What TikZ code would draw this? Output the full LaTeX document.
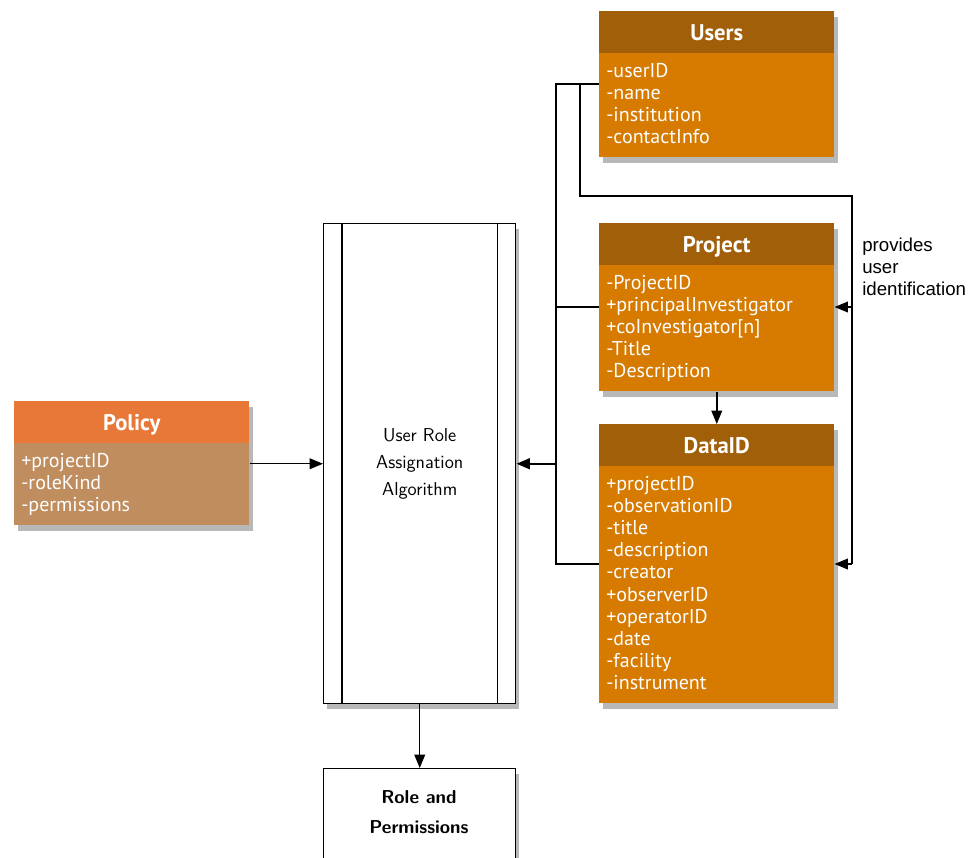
\documentclass[tikz,border=0pt]{standalone}
\usepackage{fontspec}
\newfontfamily\classfont{PT Sans}
\newfontfamily\notefont{Liberation Sans}
\usetikzlibrary{shadows,arrows.meta}
\definecolor{hdrbrown}{HTML}{A15F0A}
\definecolor{bodyorange}{HTML}{D67A00}
\definecolor{polhdr}{HTML}{E87837}
\definecolor{polbody}{HTML}{C08D5F}
\begin{document}
\begin{tikzpicture}[x=0.75pt,y=-0.75pt,
  shade/.style={drop shadow={shadow xshift=2.5pt,shadow yshift=-4pt,opacity=0.28,fill=black}},
  hdr/.style={fill=#1,text=white,font=\classfont\bfseries\fontsize{17}{20}\selectfont,minimum width=176.25pt,minimum height=31.5pt,inner sep=0pt,anchor=north west,text height=12pt,text depth=0pt,shade},
  bodybox/.style 2 args={fill=#1,minimum width=176.25pt,minimum height=#2,inner sep=0pt,anchor=north west,shade},
  item/.style={anchor=base west,text=white,font=\classfont\fontsize{15}{18}\selectfont,inner sep=0pt},
  conn/.style={draw=black,line width=1.1pt},
  tip/.style={-{Triangle[length=10pt,width=8pt]}},
  algbox/.style={draw,line width=1.1pt,fill=white,shade,minimum width=144pt,inner sep=0pt,anchor=north west}
]
\useasboundingbox (0,0) rectangle (969,857);
\clip (0,0) rectangle (969,857);

% Users
\node[hdr=hdrbrown] (users-h) at (599,11) {Users};
\node[bodybox={bodyorange}{78pt}] (users-b) at (599,53) {};
\foreach \t [count=\i from 0] in {-userID,-name,-institution,-contactInfo}
  \node[item] (users-i\i) at (606,77+22*\i) {\t};

% Project
\node[hdr=hdrbrown] (proj-h) at (599,223) {Project};
\node[bodybox={bodyorange}{94.5pt}] (proj-b) at (599,265) {};
\foreach \t [count=\i from 0] in {-ProjectID,+principalInvestigator,{+coInvestigator[n]},-Title,-Description}
  \node[item] (proj-i\i) at (606,289+22*\i) {\t};

% DataID
\node[hdr=hdrbrown] (data-h) at (599,424) {DataID};
\node[bodybox={bodyorange}{177.75pt}] (data-b) at (599,466) {};
\foreach \t [count=\i from 0] in {+projectID,-observationID,-title,-description,-creator,+observerID,+operatorID,-date,-facility,-instrument}
  \node[item] (data-i\i) at (606,490+22.2*\i) {\t};

% Policy
\node[hdr=polhdr] (pol-h) at (14,401) {Policy};
\node[bodybox={polbody}{61.5pt}] (pol-b) at (14,443) {};
\foreach \t [count=\i from 0] in {+projectID,-roleKind,-permissions}
  \node[item] (pol-i\i) at (21,467+22*\i) {\t};

% Algorithm
\node[algbox,minimum height=360pt] (alg) at (323,223) {};
\node[font=\sffamily\fontsize{14}{20.25}\selectfont,align=center] (alg-t) at (alg.center) {User Role\\Assignation\\Algorithm};
\draw[line width=1.1pt] ([xshift=14.25pt]alg.north west) -- ([xshift=14.25pt]alg.south west);
\draw[line width=1.1pt] ([xshift=-14.25pt]alg.north east) -- ([xshift=-14.25pt]alg.south east);

% Role
\node[algbox,minimum height=76.5pt] (role) at (323,768) {};
\node[font=\sffamily\bfseries\fontsize{14}{22.5}\selectfont,align=center] (role-t) at (419,812) {Role and\\Permissions};

% Note
\node[anchor=north west,font=\notefont\fontsize{14}{16.5}\selectfont,align=left,inner sep=0pt] (note) at (862,238) {provides\\user\\identification};

% connectors
\draw[conn,tip] (pol-b.east |- alg.west) -- (alg.west);
\draw[conn,tip] (alg.south) -- (role.north);
\draw[conn,tip] (proj-b.south) -- (data-h.north);

\coordinate (bus-top) at (556,84);
\coordinate (bus-bot) at (556,564);
\coordinate (bus-mid) at (556,463);
\coordinate (bus-proj) at (556,307);
\draw[conn] ([yshift=-23.25pt]users-b.north west) -- (bus-top) -- (bus-bot) -- ([yshift=-73.5pt]data-b.north west);
\draw[conn] (bus-proj) -- ([yshift=-31.5pt]proj-b.north west);
\draw[conn,line width=1.7pt,tip] (bus-mid |- alg.east) -- (alg.east);

\coordinate (r1) at (580,84);
\coordinate (r2) at (580,196);
\coordinate (r3) at (852,196);
\coordinate (r4) at (852,564);
\coordinate (r5) at (852,307);
\draw[conn] (r1) -- (r2) -- (r3) -- (r4);
\draw[conn,tip] (r5) -- ([yshift=-31.5pt]proj-b.north east);
\draw[conn,tip] (r4) -- ([yshift=-73.5pt]data-b.north east);
\end{tikzpicture}
\end{document}
